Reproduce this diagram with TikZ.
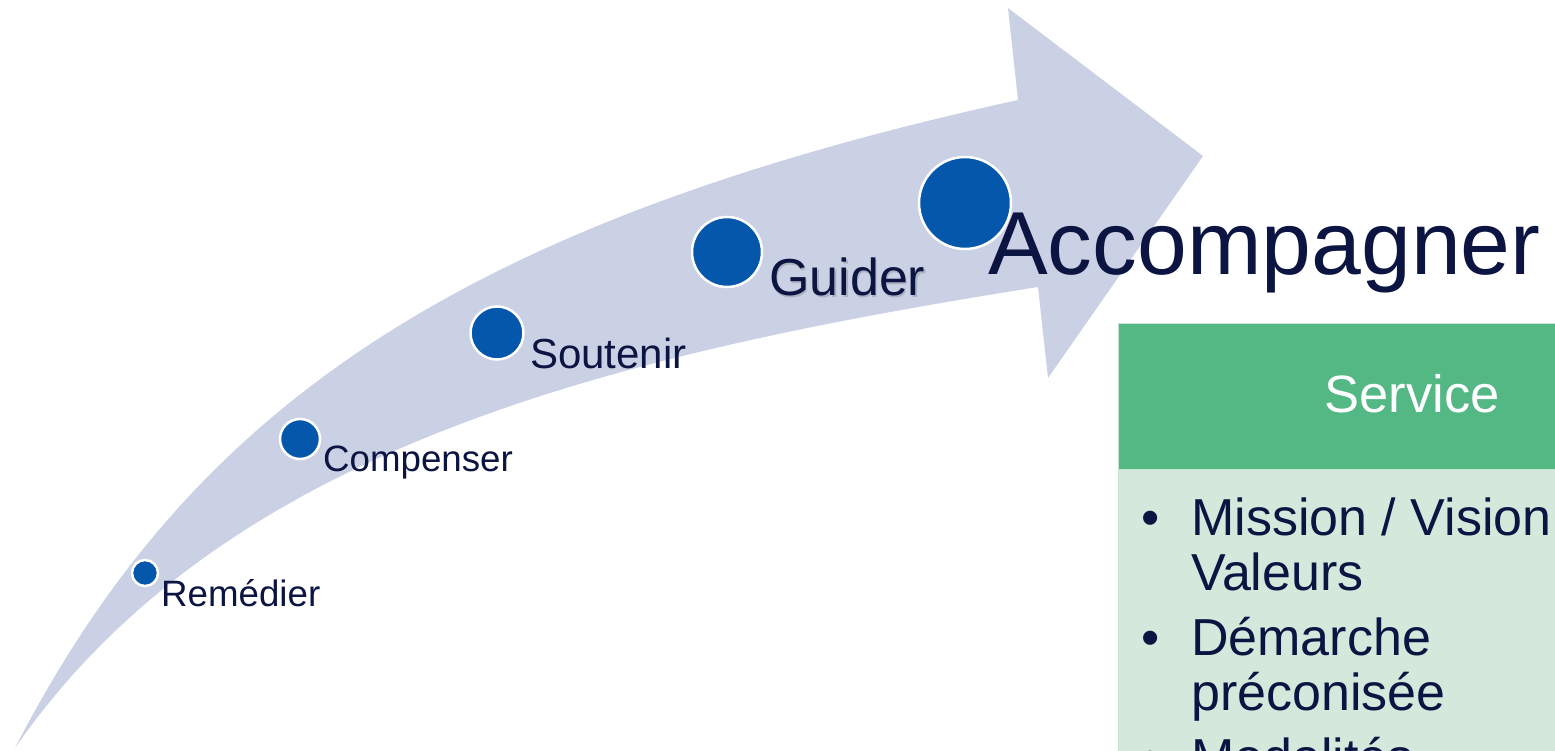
\documentclass[tikz,border=0pt]{standalone}
\usepackage{fontspec}
\setmainfont{Liberation Sans}
\definecolor{navy}{HTML}{0C1442}
\definecolor{bandcol}{HTML}{CBD1E4}
\definecolor{dotcol}{HTML}{0457AB}
\definecolor{headgreen}{HTML}{54B885}
\definecolor{bodygreen}{HTML}{D4E8DC}
\definecolor{edgegreen}{HTML}{C6E4D0}
\tikzset{
  dot/.style={circle, fill=dotcol, draw=white, line width=2.5pt, inner sep=0pt},
  lbl/.style={anchor=base west, inner sep=0pt, text=navy},
  item/.style={anchor=base west, inner sep=0pt, text=navy, font=\fontsize{52}{55}\selectfont},
  bul/.style={anchor=base, inner sep=0pt, text=navy, font=\fontsize{52}{55}\selectfont},
}
\begin{document}
\begin{tikzpicture}[x=1pt, y=-1pt]
\useasboundingbox (0,0) rectangle (1555,751);
\clip (0,0) rectangle (1555,751);
% curved arrow
\fill[bandcol] (15,748) .. controls (187,415) and (448,225) .. (1018,100)
  -- (1008,8) -- (1203,156) -- (1048,378) -- (1038,287)
  .. controls (609,355) and (223,448) .. (15,748) -- cycle;
% dots
\node[dot, minimum size=26pt] (d1) at (145,573) {};
\node[dot, minimum size=40pt] (d2) at (300,439) {};
\node[dot, minimum size=53pt] (d3) at (497,333) {};
\node[dot, minimum size=70pt] (d4) at (727,252) {};
\node[dot, minimum size=92pt] (d5) at (965,203) {};
% labels
\node[lbl, font=\fontsize{36.7}{40}\selectfont] (t1) at (161,606) {Remédier};
\node[lbl, font=\fontsize{36.7}{40}\selectfont] (t2) at (323,471) {Compenser};
\node[lbl, font=\fontsize{42}{46}\selectfont] (t3) at (530,368) {Soutenir};
\node[lbl, font=\fontsize{52}{56}\selectfont, text=black, opacity=0.15] (t4s) at (770.5,298) {Guider};
\node[lbl, font=\fontsize{52}{56}\selectfont] (t4) at (769,296) {Guider};
\node[lbl, font=\fontsize{89.5}{94}\selectfont] (t5) at (988,275) {Accompagner};
% box
\fill[bodygreen] (1118,469) rectangle (1600,800);
\fill[headgreen] (1118,323) rectangle (1600,469);
\draw[edgegreen, line width=1pt] (1118,800) -- (1118,323) -- (1600,323);
\draw[edgegreen, line width=1pt] (1118,469) -- (1600,469);
\node[anchor=base, inner sep=0pt, text=white, font=\fontsize{52.5}{56}\selectfont] (hd) at (1412,412) {Service};
\node[bul] (b1) at (1151,535) {•};
\node[item] (i1a) at (1191,535) {Mission / Vision /};
\node[item] (i1b) at (1191,590) {Valeurs};
\node[bul] (b2) at (1151,655) {•};
\node[item] (i2a) at (1191,655) {Démarche};
\node[item] (i2b) at (1191,710) {préconisée};
\node[bul] (b3) at (1151,775) {•};
\node[item] (i3a) at (1191,775) {Modalités};
\end{tikzpicture}
\end{document}
